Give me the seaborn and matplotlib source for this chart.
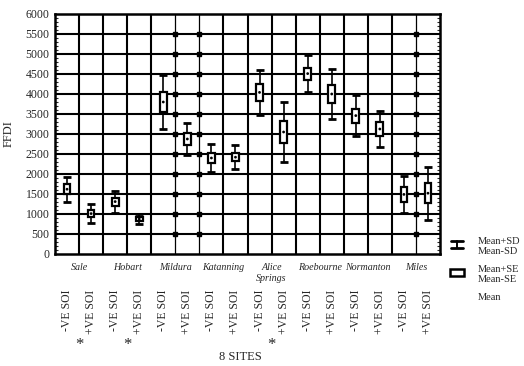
import numpy as np
import pandas as pd
import seaborn as sns
import matplotlib
matplotlib.use("Agg")
import matplotlib.pyplot as plt
from matplotlib.lines import Line2D
from matplotlib.patches import Rectangle
from matplotlib.transforms import blended_transform_factory

# FFDI summary statistics for 8 sites, split by SOI phase
sites = ["Sale", "Hobart", "Mildura", "Katanning", "Alice\nSprings",
         "Roebourne", "Normanton", "Miles"]
phases = ["-VE SOI", "+VE SOI"]
means = [1620, 1010, 1310, 875, 3800, 2875, 2400, 2420,
         4040, 3050, 4510, 4000, 3460, 3125, 1490, 1520]
sds = [310, 240, 275, 125, 675, 400, 340, 300,
       560, 740, 460, 620, 510, 440, 460, 660]
ses = [120, 90, 100, 50, 260, 150, 120, 100,
       210, 275, 150, 225, 175, 175, 190, 250]
significant_sites = ["Sale", "Hobart", "Alice\nSprings"]
y_ticks = list(range(0, 6001, 500))

labels = [p for _ in sites for p in phases]
df = pd.DataFrame({
    "pos": np.arange(len(labels)),
    "label": labels,
    "mean": means,
    "sd": sds,
    "se": ses,
})

sns.set_style("white")
plt.rcParams["font.family"] = ["Liberation Serif", "DejaVu Serif"]

fig = plt.figure(figsize=(5.24, 3.66), dpi=100)
ax = fig.add_axes([55 / 524, 1 - 254 / 366, 385 / 524, 240 / 366])

n = len(labels)
ax.set_xlim(-0.5, n - 0.5)
ax.set_ylim(0, 6000)

# grid: heavy lines at every 500 and at each category boundary
thin_cols = {5, 6, 15}
for yv in y_ticks[1:-1]:
    ax.axhline(yv, color="black", lw=1.5, zorder=1)
for k in range(1, n):
    xb = k - 0.5
    if k in thin_cols:
        ax.axvline(xb, color="black", lw=0.9, zorder=1)
        ax.plot([xb] * (len(y_ticks) - 2), y_ticks[1:-1], "s",
                color="black", ms=2.5, zorder=1)
    else:
        ax.axvline(xb, color="black", lw=1.5, zorder=1)

# Mean +/- SD whiskers
ax.errorbar(df["pos"], df["mean"], yerr=df["sd"], fmt="none",
            ecolor="black", elinewidth=1.2, capsize=3.0, capthick=2.0,
            zorder=3)
# Mean +/- SE boxes
ax.bar(df["pos"], 2 * df["se"], bottom=df["mean"] - df["se"], width=0.28,
       color="white", edgecolor="black", linewidth=1.6, zorder=4)
# Mean points
sns.scatterplot(data=df, x="pos", y="mean", ax=ax, color="black", s=4,
                marker="o", edgecolor="none", zorder=5, legend=False)

ax.set_xlabel("")
ax.set_ylabel("FFDI", fontsize=9, labelpad=8)
ax.set_yticks(y_ticks)
ax.set_yticklabels([str(v) for v in y_ticks], fontsize=8.5)
ax.set_yticks(np.arange(0, 6001, 100), minor=True)
ax.tick_params(axis="y", which="major", length=0, pad=4)
ax.tick_params(axis="y", which="minor", direction="in", length=2.5,
               width=0.8, left=True, right=True)
ax.set_xticks(df["pos"])
ax.set_xticklabels(df["label"], rotation=90, fontsize=8.5, va="top")
ax.tick_params(axis="x", which="major", length=0, pad=26)

for s in ax.spines.values():
    s.set_linewidth(1.8)
    s.set_color("black")

# site names under each pair of columns
trans = blended_transform_factory(ax.transData, fig.transFigure)
for i, site in enumerate(sites):
    ax.text(2 * i + 0.5, 1 - 263 / 366, site, transform=trans,
            ha="center", va="top", fontsize=7.2, style="italic",
            linespacing=1.3)
    if site in significant_sites:
        ax.text(2 * i + 0.5, 1 - 345 / 366, "*", transform=trans,
                ha="center", va="center", fontsize=12)

fig.text(240 / 524, 1 - 357 / 366, "8 SITES", ha="center", va="center",
         fontsize=9)

# key: whisker glyph and box glyph
fx = lambda px: px / 524
fy = lambda py: 1 - py / 366
fig.add_artist(Line2D([fx(451), fx(463)], [fy(240.5)] * 2, color="black",
                      lw=2.0))
fig.add_artist(Line2D([fx(451), fx(463)], [fy(247.5)] * 2, color="black",
                      lw=2.0))
fig.add_artist(Line2D([fx(457), fx(457)], [fy(240.5), fy(247.5)],
                      color="black", lw=1.4))
fig.add_artist(Rectangle((fx(450), fy(276)), fx(14), 7 / 366,
                         facecolor="white", edgecolor="black", lw=1.8,
                         transform=fig.transFigure))
key_kw = dict(ha="left", va="center", fontsize=7.5)
fig.text(fx(478), fy(242), "Mean+SD", **key_kw)
fig.text(fx(478), fy(252), "Mean-SD", **key_kw)
fig.text(fx(478), fy(270), "Mean+SE", **key_kw)
fig.text(fx(478), fy(280), "Mean-SE", **key_kw)
fig.text(fx(478), fy(298), "Mean", **key_kw)

fig.savefig("out.png", dpi=100)
